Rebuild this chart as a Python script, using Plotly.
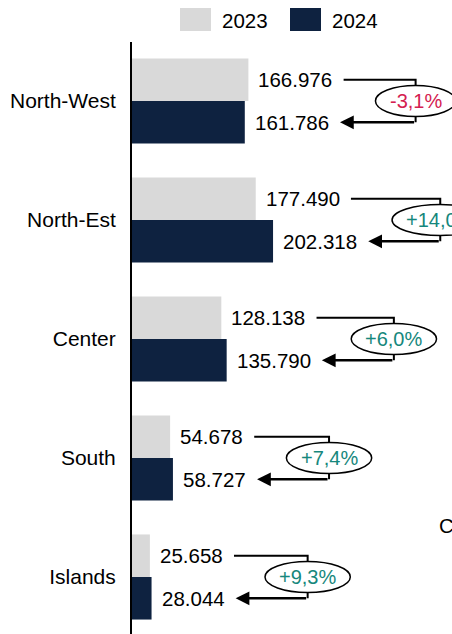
import plotly.graph_objects as go

FONT = 'Liberation Sans, Arial, sans-serif'
COL_2023 = '#d9d9d9'
COL_2024 = '#0e2240'
NEG_COL = '#d42050'
POS_COL = '#16877c'

regions = ['North-West', 'North-Est', 'Center', 'South', 'Islands']
years = ['2023', '2024']
values_2023 = [166976, 177490, 128138, 54678, 25658]
values_2024 = [161786, 202318, 135790, 58727, 28044]

# layout geometry (pixels)
W, H = 452, 634
L, T = 132, 42
X_MAX = 459000
PX = (W - L) / X_MAX          # px per data unit
BARGAP = 0.285
OFF = (1 - BARGAP) / 4        # offset of each bar centre from category centre

CHAR_W = {'.': 5.6, ',': 5.6, '%': 17.8, '+': 11.7, '-': 6.7}


def fmt_num(v):
    return f"{v:,}".replace(",", ".")


def fmt_pct(p):
    return f"{p:+.1f}%".replace(".", ",")


def text_w(s):
    # rough Arial width at 20px
    return sum(CHAR_W.get(c, 11.1) for c in s)


idx = list(range(len(regions)))

fig = go.Figure()
fig.add_trace(go.Bar(y=idx, x=values_2023, orientation='h', name=years[0],
                     marker=dict(color=COL_2023, line_width=0), showlegend=False))
fig.add_trace(go.Bar(y=idx, x=values_2024, orientation='h', name=years[1],
                     marker=dict(color=COL_2024, line_width=0), showlegend=False))

shapes = []
annotations = []
for i, (a, b) in enumerate(zip(values_2023, values_2024)):
    y23 = i - OFF
    y24 = i + OFF
    ta, tb = fmt_num(a), fmt_num(b)
    annotations.append(dict(x=a, y=y23, text=ta, xanchor='left', yanchor='middle',
                            xshift=8, showarrow=False, font=dict(size=20.5, color='black')))
    annotations.append(dict(x=b, y=y24, text=tb, xanchor='left', yanchor='middle',
                            xshift=8, showarrow=False, font=dict(size=20.5, color='black')))

    end_a = a + (10 + text_w(ta)) / PX
    end_b = b + (10 + text_w(tb)) / PX
    xs_a = end_a + 13 / PX
    xs_b = end_b + 13 / PX
    xv = max(end_a, end_b) + 85 / PX

    shapes.append(dict(type='path', xref='x', yref='y',
                       path=f"M {xs_a},{y23} L {xv},{y23} L {xv},{y24}",
                       line=dict(color='black', width=2)))
    annotations.append(dict(x=xs_b, y=y24, ax=xv, ay=y24, axref='x', ayref='y',
                            text='', showarrow=True, arrowhead=2, arrowsize=1.1,
                            arrowwidth=2.5, arrowcolor='black', standoff=0))

    # ellipse with the change
    p = (b / a - 1) * 100
    tp = fmt_pct(p)
    half_w = (text_w(tp) + 28) / 2 / PX
    shapes.append(dict(type='circle', xref='x', yref='y',
                       x0=xv - half_w, x1=xv + half_w, y0=i - 0.13, y1=i + 0.13,
                       fillcolor='white', line=dict(color='black', width=1.5)))
    annotations.append(dict(x=xv, y=i, text=tp, showarrow=False,
                            xanchor='center', yanchor='middle',
                            font=dict(size=20, color=NEG_COL if p < 0 else POS_COL)))


# legend drawn by hand, positions given in window pixels
def px_x(px):
    return (px - L) / (W - L)


def px_y(py):
    return (H - py) / (H - T)


for col, x0, x1, tx, label in [(COL_2023, 180, 211, 220, years[0]),
                               (COL_2024, 290, 321, 330, years[1])]:
    shapes.append(dict(type='rect', xref='paper', yref='paper',
                       x0=px_x(x0), x1=px_x(x1), y0=px_y(31), y1=px_y(8),
                       fillcolor=col, line_width=0))
    annotations.append(dict(xref='paper', yref='paper', x=px_x(tx), y=px_y(20),
                            text=label, xanchor='left', yanchor='middle',
                            showarrow=False, font=dict(size=20.5, color='black')))

# partial text cut at the right edge
annotations.append(dict(xref='paper', yref='paper', x=px_x(437), y=px_y(525),
                        text='C', xanchor='left', yanchor='middle',
                        showarrow=False, font=dict(size=20.5, color='black')))

fig.update_layout(
    width=W, height=H,
    margin=dict(l=L, r=0, t=T, b=0),
    barmode='group', bargap=BARGAP, bargroupgap=0,
    plot_bgcolor='white', paper_bgcolor='white',
    font=dict(family=FONT, size=20, color='black'),
    shapes=shapes, annotations=annotations,
    showlegend=False,
)
fig.update_xaxes(range=[0, X_MAX], visible=False, showgrid=False, zeroline=False)
fig.update_yaxes(range=[4 + (H - 577) / 119, -(101 - T) / 119],
                 tickvals=idx, ticktext=regions, ticks='', ticklabelstandoff=10,
                 showline=True, linecolor='black', linewidth=2,
                 showgrid=False, zeroline=False, tickfont=dict(size=21, color='black'))

# drop the default page margin so the figure fills the window
fig.write_html("out.html", post_script="document.body.style.margin='0';",
               config={'displayModeBar': False})
